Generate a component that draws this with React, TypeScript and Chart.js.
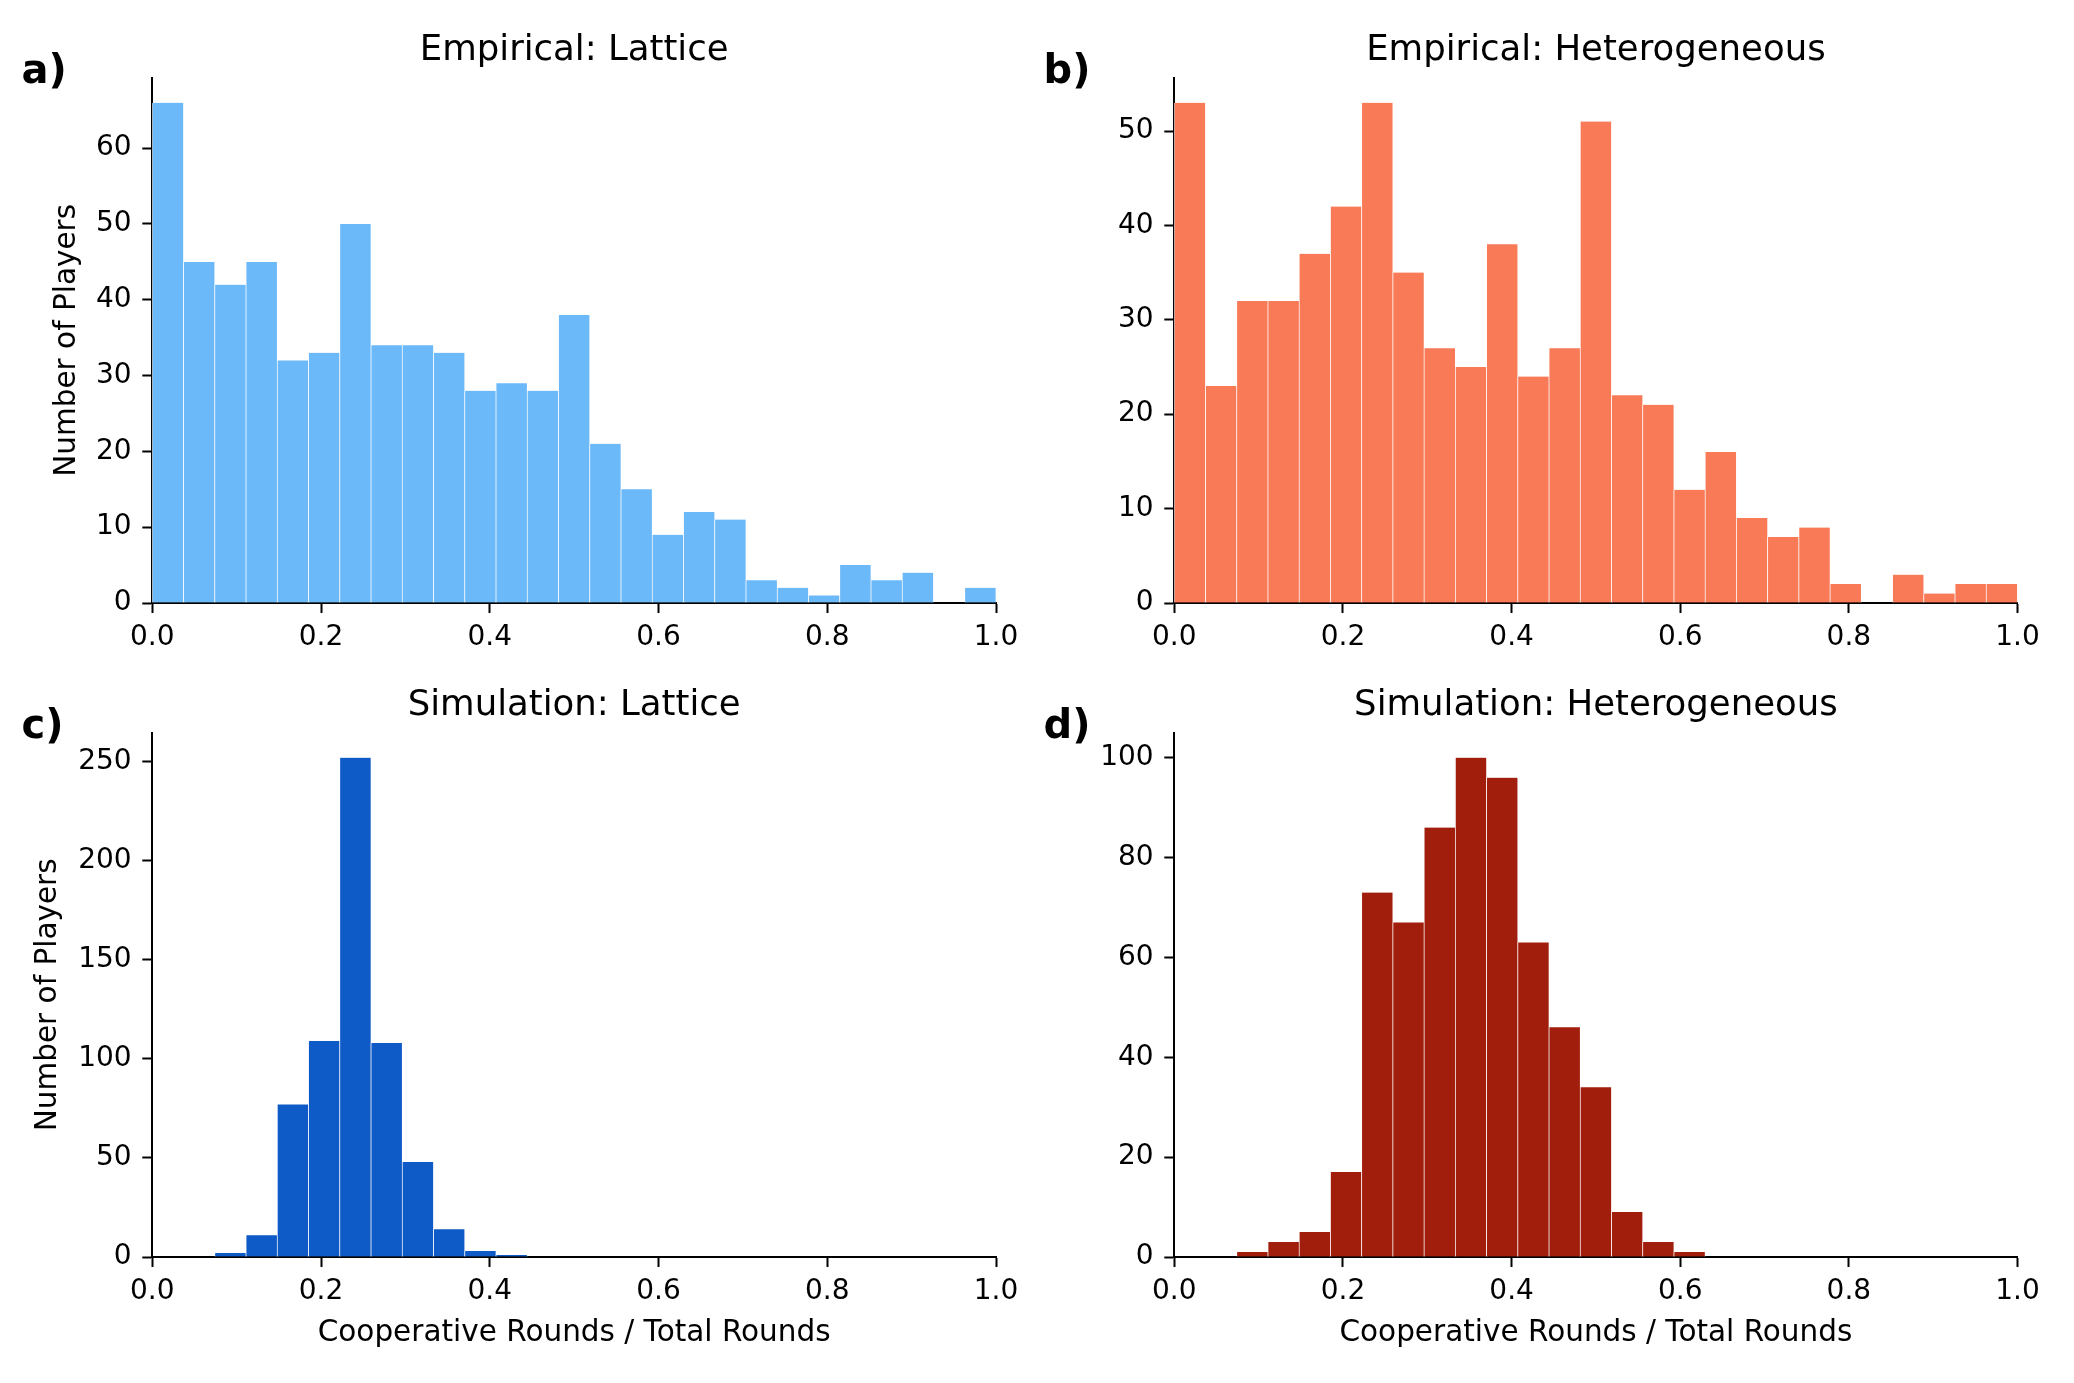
import React, { useEffect, useRef } from 'react';
import { Chart, registerables } from 'chart.js';

Chart.register(...registerables);

// ---------- data ----------
const BIN_LEFT = 0;
const BIN_RIGHT = 1;
const BIN_COUNT = 27;

const xTickValues = [0, 0.2, 0.4, 0.6, 0.8, 1.0];

const empiricalLattice = [66, 45, 42, 45, 32, 33, 50, 34, 34, 33, 28, 29, 28, 38, 21, 15, 9, 12, 11, 3, 2, 1, 5, 3, 4, 0, 2];
const empiricalHetero = [53, 23, 32, 32, 37, 42, 53, 35, 27, 25, 38, 24, 27, 51, 22, 21, 12, 16, 9, 7, 8, 2, 0, 3, 1, 2, 2];
const simulationLattice = [0, 0, 2, 11, 77, 109, 252, 108, 48, 14, 3, 1, 0, 0, 0, 0, 0, 0, 0, 0, 0, 0, 0, 0, 0, 0, 0];
const simulationHetero = [0, 0, 1, 3, 5, 17, 73, 67, 86, 100, 96, 63, 46, 34, 9, 3, 1, 0, 0, 0, 0, 0, 0, 0, 0, 0, 0];

const yTicksEmpLattice = [0, 10, 20, 30, 40, 50, 60];
const yTicksEmpHetero = [0, 10, 20, 30, 40, 50];
const yTicksSimLattice = [0, 50, 100, 150, 200, 250];
const yTicksSimHetero = [0, 20, 40, 60, 80, 100];

const titles = ['Empirical: Lattice', 'Empirical: Heterogeneous', 'Simulation: Lattice', 'Simulation: Heterogeneous'];
const letters = ['a)', 'b)', 'c)', 'd)'];
const Y_LABEL = 'Number of Players';
const X_LABEL = 'Cooperative Rounds / Total Rounds';

// ---------- style ----------
const FONT = "'DejaVu Sans', 'Liberation Sans', sans-serif";
const TICK_SIZE = 28;
const LABEL_SIZE = 29.5;
const TITLE_SIZE = 35.5;
const LETTER_SIZE = 40;

const binWidth = (BIN_RIGHT - BIN_LEFT) / BIN_COUNT;
const binCenters = Array.from({ length: BIN_COUNT }, (_, i) => BIN_LEFT + (i + 0.5) * binWidth);

type Box = { left: number; top: number; width: number; height: number };
type Area = { left: number; top: number; right: number; bottom: number };
type Panel = {
  title: string;
  letter: string;
  values: number[];
  color: string;
  yTicks: number[];
  yLabel?: string;
  xLabel?: string;
  yTitleX?: number;
  canvas: Box;
  area: Area;
};

const COL = [
  { cLeft: 0, cWidth: 1037, aLeft: 152.3, aRight: 996 },
  { cLeft: 1037, cWidth: 1037, aLeft: 1174.3, aRight: 2017.5 },
];
const ROW = [
  { cTop: 0, cHeight: 654, aTop: 77.7, aBottom: 603 },
  { cTop: 654, cHeight: 729, aTop: 732.7, aBottom: 1257 },
];

function mk(col: number, row: number) {
  const c = COL[col], r = ROW[row];
  return {
    canvas: { left: c.cLeft, top: r.cTop, width: c.cWidth, height: r.cHeight },
    area: { left: c.aLeft, top: r.aTop, right: c.aRight, bottom: r.aBottom },
  };
}

const PANELS: Panel[] = [
  { title: titles[0], letter: letters[0], values: empiricalLattice, color: '#6cb9f9', yTicks: yTicksEmpLattice, yLabel: Y_LABEL, yTitleX: 67.5, ...mk(0, 0) },
  { title: titles[1], letter: letters[1], values: empiricalHetero, color: '#f87a57', yTicks: yTicksEmpHetero, ...mk(1, 0) },
  { title: titles[2], letter: letters[2], values: simulationLattice, color: '#0e5ac7', yTicks: yTicksSimLattice, yLabel: Y_LABEL, xLabel: X_LABEL, yTitleX: 48.5, ...mk(0, 1) },
  { title: titles[3], letter: letters[3], values: simulationHetero, color: '#a21e0c', yTicks: yTicksSimHetero, xLabel: X_LABEL, ...mk(1, 1) },
];

const panelTextPlugin = {
  id: 'panelText',
  afterDraw(chart: any, _args: any, opts: any) {
    const { ctx, chartArea } = chart;
    ctx.save();
    ctx.fillStyle = '#000';
    ctx.textBaseline = 'alphabetic';
    ctx.font = `${TITLE_SIZE}px ${FONT}`;
    ctx.textAlign = 'center';
    ctx.fillText(opts.title, (chartArea.left + chartArea.right) / 2, chartArea.top - 17.5);
    ctx.font = `bold ${LETTER_SIZE}px ${FONT}`;
    ctx.textAlign = 'left';
    ctx.fillText(opts.letter, chartArea.left - 130.8, chartArea.top + 5.6);
    ctx.restore();
  },
};

function HistPanel({ panel }: { panel: Panel }) {
  const ref = useRef<HTMLCanvasElement | null>(null);
  useEffect(() => {
    const p = panel;
    const c = p.canvas;
    const a = p.area;
    const yW = a.left - c.left;
    const xH = p.xLabel ? 110 : 50;
    const padTop = a.top - c.top;
    const padRight = c.left + c.width - a.right;
    const padBottom = c.top + c.height - a.bottom - xH;
    const labelLH = LABEL_SIZE * 1.2;
    const yMax = Math.max(...p.values) * 1.05;

    const chart = new Chart(ref.current as HTMLCanvasElement, {
      type: 'bar',
      data: {
        datasets: [
          {
            data: p.values.map((v, i) => ({ x: binCenters[i], y: v })),
            backgroundColor: p.color,
            borderColor: '#ffffff',
            borderWidth: { top: 0, left: 0.7, right: 0.7, bottom: 0 },
            borderSkipped: false,
            barPercentage: 1,
            categoryPercentage: 1,
          } as any,
        ],
      },
      options: {
        animation: false,
        responsive: false,
        maintainAspectRatio: false,
        devicePixelRatio: 1,
        events: [],
        layout: { padding: { left: 0, top: padTop, right: padRight, bottom: padBottom } },
        plugins: {
          legend: { display: false },
          tooltip: { enabled: false },
          title: { display: false },
          panelText: { title: p.title, letter: p.letter },
        } as any,
        scales: {
          x: {
            type: 'linear',
            min: BIN_LEFT,
            max: BIN_RIGHT,
            offset: false,
            grid: {
              display: true,
              drawOnChartArea: false,
              drawTicks: true,
              tickLength: 10,
              tickWidth: 2,
              tickColor: '#000',
              offset: false,
            },
            border: { display: true, color: '#000', width: 2 },
            ticks: {
              font: { family: FONT, size: TICK_SIZE, lineHeight: 1.2 },
              color: '#000',
              padding: 8.3,
              maxRotation: 0,
              minRotation: 0,
              autoSkip: false,
              callback: (v: any) => Number(v).toFixed(1),
            },
            afterBuildTicks: (s: any) => {
              s.ticks = xTickValues.map((v) => ({ value: v }));
            },
            afterFit: (s: any) => {
              s.height = xH;
            },
            title: p.xLabel
              ? {
                  display: true,
                  text: p.xLabel,
                  color: '#000',
                  font: { family: FONT, size: LABEL_SIZE, lineHeight: 1.2 },
                  padding: { top: 0, bottom: xH - labelLH / 2 - 76 },
                }
              : { display: false },
          } as any,
          y: {
            type: 'linear',
            min: 0,
            max: yMax,
            grid: {
              display: true,
              drawOnChartArea: false,
              drawTicks: true,
              tickLength: 10,
              tickWidth: 2,
              tickColor: '#000',
            },
            border: { display: true, color: '#000', width: 2 },
            ticks: {
              font: { family: FONT, size: TICK_SIZE, lineHeight: 1.2 },
              color: '#000',
              padding: 10.7,
              autoSkip: false,
              callback: (v: any) => String(v),
            },
            afterBuildTicks: (s: any) => {
              s.ticks = p.yTicks.map((v) => ({ value: v }));
            },
            afterFit: (s: any) => {
              s.width = yW;
            },
            title: p.yLabel
              ? {
                  display: true,
                  text: p.yLabel,
                  color: '#000',
                  font: { family: FONT, size: LABEL_SIZE, lineHeight: 1.2 },
                  padding: { top: (p.yTitleX as number) - c.left - labelLH / 2, bottom: 0 },
                }
              : { display: false },
          } as any,
        },
      },
      plugins: [panelTextPlugin as any],
    });
    return () => chart.destroy();
  }, [panel]);

  const c = panel.canvas;
  return (
    <canvas
      ref={ref}
      width={c.width}
      height={c.height}
      style={{ position: 'absolute', left: c.left, top: c.top, width: c.width, height: c.height }}
    />
  );
}

export default function App() {
  return (
    <div style={{ position: 'absolute', left: 0, top: 0, width: 2074, height: 1383, background: '#ffffff', overflow: 'hidden' }}>
      {PANELS.map((p, i) => (
        <HistPanel key={i} panel={p} />
      ))}
    </div>
  );
}
